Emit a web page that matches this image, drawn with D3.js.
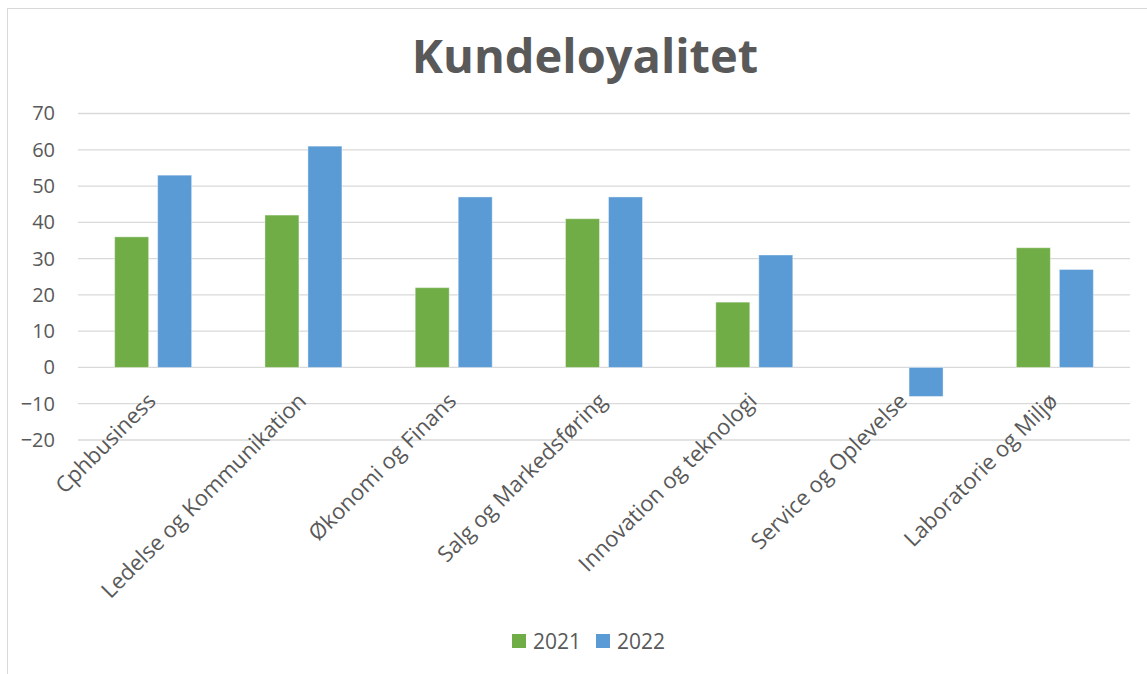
<!DOCTYPE html>
<html>
<head>
<meta charset="utf-8">
<script src="https://cdn.jsdelivr.net/npm/d3@7"></script>
<style>
  body { margin: 0; background: #fff; }
  text { font-family: "Open Sans", "Liberation Sans", sans-serif; fill: #595959; }
</style>
</head>
<body>
<svg id="chart"></svg>
<script>
const categories = ["Cphbusiness", "Ledelse og Kommunikation", "Økonomi og Finans", "Salg og Markedsføring",
    "Innovation og teknologi", "Service og Oplevelse", "Laboratorie og Miljø"];
const seriesNames = ["2021", "2022"];
const values2021 = [36, 42, 22, 41, 18, null, 33];
const values2022 = [53, 61, 47, 47, 31, -8, 27];
const yTicks = [-20, -10, 0, 10, 20, 30, 40, 50, 60, 70];
const colors = ["#70AD47", "#5B9BD5"];

const width = 1147, height = 674;
const padding = { top: 113.5, right: 17, bottom: 234, left: 78 }; // plot area

const svg = d3.select("#chart")
    .attr("width", width)
    .attr("height", height);

// chart border
svg.append("rect")
    .attr("x", 7.5).attr("y", 8.5)
    .attr("width", width + 10).attr("height", height + 10)
    .attr("fill", "none")
    .attr("stroke", "#d9d9d9");

const x = d3.scaleBand()
    .domain(categories)
    .range([padding.left, width - padding.right]);

const y = d3.scaleLinear()
    .domain([-20, 70])
    .range([height - padding.bottom, padding.top]);

// gridlines
svg.append("g")
    .selectAll("line")
    .data(yTicks)
    .enter().append("line")
    .attr("x1", padding.left)
    .attr("x2", width - padding.right)
    .attr("y1", d => y(d))
    .attr("y2", d => y(d))
    .attr("stroke", "#d9d9d9")
    .attr("stroke-width", 1.3);

// y axis labels
const yAxis = d3.axisLeft(y).tickValues(yTicks).tickSize(0).tickPadding(23);
const yg = svg.append("g")
    .attr("transform", `translate(${padding.left}, 0)`)
    .call(yAxis);
yg.select(".domain").remove();
yg.selectAll("text")
    .style("font-size", "20px")
    .style("font-family", "'Open Sans', sans-serif")
    .attr("fill", "#595959");

// bars
const barW = 34, gap = 9;
const data = categories.map((c, i) => ({ cat: c, vals: [values2021[i], values2022[i]] }));

const groups = svg.append("g")
    .selectAll("g")
    .data(data)
    .enter().append("g")
    .attr("transform", d => `translate(${x(d.cat) + x.bandwidth() / 2}, 0)`);

groups.selectAll("rect")
    .data(d => d.vals.map((v, k) => ({ v: v, k: k })).filter(e => e.v !== null))
    .enter().append("rect")
    .attr("x", d => d.k === 0 ? -barW - gap / 2 : gap / 2)
    .attr("width", barW)
    .attr("y", d => y(Math.max(0, d.v)))
    .attr("height", d => Math.abs(y(d.v) - y(0)))
    .attr("fill", d => colors[d.k])
    .attr("stroke", "#fff")
    .attr("stroke-opacity", 0.4)
    .attr("stroke-width", 1);

// category labels, rotated
svg.append("g")
    .selectAll("text")
    .data(categories)
    .enter().append("text")
    .attr("transform", d => `translate(${x(d) + x.bandwidth() / 2 + 4}, ${y(0) + 35}) rotate(-45)`)
    .attr("text-anchor", "end")
    .style("font-size", "22px")
    .text(d => d);

// title
svg.append("text")
    .attr("x", 585)
    .attr("y", 73)
    .attr("text-anchor", "middle")
    .style("font-size", "47px")
    .style("font-weight", "bold")
    .text("Kundeloyalitet");

// legend
const legendX = [512, 596];
const legend = svg.append("g")
    .selectAll("g")
    .data(seriesNames)
    .enter().append("g")
    .attr("transform", (d, i) => `translate(${legendX[i]}, 634)`);
legend.append("rect")
    .attr("width", 14).attr("height", 14)
    .attr("fill", (d, i) => colors[i]);
legend.append("text")
    .attr("x", 21)
    .attr("y", 14.5)
    .style("font-size", "21px")
    .text(d => d);
</script>
</body>
</html>
